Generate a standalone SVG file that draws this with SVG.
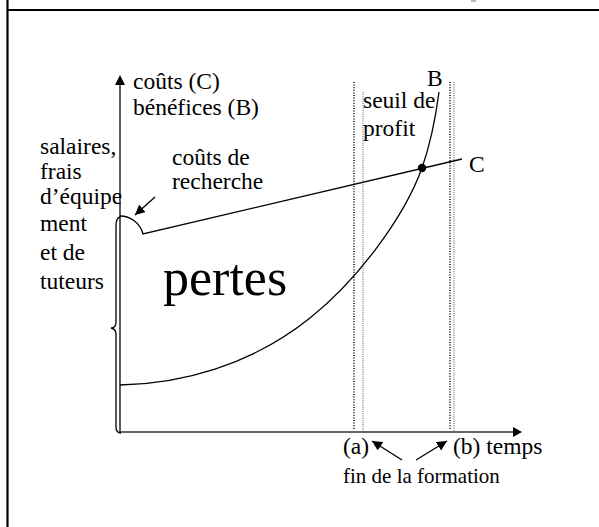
<svg xmlns="http://www.w3.org/2000/svg" width="599" height="527" viewBox="0 0 599 527">
<style>
text{font-family:"Liberation Serif","Times New Roman",serif;font-size:23.5px;fill:#000}
.ax{stroke:#333;stroke-width:1.6;fill:none}
.ln{stroke:#000;stroke-width:1.3;fill:none}
.dd{stroke:#000;stroke-width:1.5;stroke-dasharray:1 1.6;fill:none}
.dl{stroke:#555;stroke-width:1;stroke-dasharray:1 1.2;fill:none}
</style>
<defs>
<marker id="ah" viewBox="0 0 10 10" refX="10" refY="5" markerWidth="10" markerHeight="10" markerUnits="userSpaceOnUse" orient="auto">
<path d="M0,0 L10,5 L0,10 Z" fill="#000"/>
</marker>
</defs>
<rect width="599" height="527" fill="#fff"/>
<g id="frame">
<line x1="7.5" y1="0" x2="7.5" y2="527" stroke="#000" stroke-width="2.2"/>
<line x1="7" y1="10" x2="599" y2="10" stroke="#000" stroke-width="2.2"/>
<rect x="471" y="0" width="5" height="2" fill="#bbb"/>
</g>
<g id="connectors">
<line class="ax" x1="120" y1="433" x2="120" y2="84"/>
<path d="M115,85 L120,75 L125,85 Z" fill="#000"/>
<line class="ax" x1="119" y1="432" x2="513" y2="432"/>
<path d="M513,427 L522,432 L513,437 Z" fill="#000"/>
<line class="dd" x1="354" y1="82" x2="354" y2="429"/>
<line class="dl" x1="363" y1="92" x2="363" y2="431"/>
<line class="dd" x1="450" y1="82" x2="450" y2="429"/>
<line class="dl" x1="454" y1="82" x2="454" y2="431"/>
<path class="ln" d="M120,216 A24,24 0 0 1 143,234 L462,159"/>
<path class="ln" d="M120,385 C180,384 250,366 310,318 C360,278 405,215 422,168 C430,145 436,115 439,92"/>
<circle cx="422" cy="168" r="4.2" fill="#000"/>
<path class="ln" d="M120,217 Q116,218 116,226 L116,322 Q116,328 111,328 Q116,329 116,334 L116,427 Q116,433 121,433" stroke="#333" stroke-width="1.2"/>
<line class="ln" x1="155" y1="197" x2="135" y2="215" marker-end="url(#ah)"/>
<line class="ln" x1="402" y1="460" x2="372" y2="441" marker-end="url(#ah)"/>
<line class="ln" x1="416" y1="460" x2="447" y2="441" marker-end="url(#ah)"/>
</g>
<g id="axis-y-label">
<text x="133" y="89">coûts (C)</text>
<text x="133" y="115">bénéfices (B)</text>
</g>
<g id="salaires">
<text x="40" y="154">salaires,</text>
<text x="40" y="179">frais</text>
<text x="40" y="204">d’équipe</text>
<text x="40" y="231">ment</text>
<text x="40" y="260">et de</text>
<text x="40" y="289">tuteurs</text>
</g>
<g id="couts-recherche">
<text x="172" y="165">coûts de</text>
<text x="172" y="189">recherche</text>
</g>
<g id="seuil">
<text x="363" y="108">seuil de</text>
<text x="363" y="136">profit</text>
</g>
<g id="label-B"><text x="427" y="86">B</text></g>
<g id="label-C"><text x="469" y="172">C</text></g>
<g id="pertes"><text x="163" y="295" style="font-size:52px">pertes</text></g>
<g id="label-a"><text x="343" y="454">(a)</text></g>
<g id="label-b"><text x="453" y="454">(b) temps</text></g>
<g id="fin-formation"><text x="343" y="483" style="font-size:21px">fin de la formation</text></g>
</svg>
